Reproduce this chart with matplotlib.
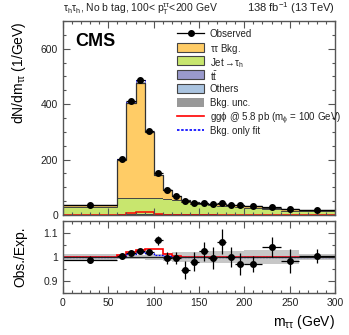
import numpy as np
import matplotlib
matplotlib.use('Agg')
import matplotlib.pyplot as plt
from matplotlib.patches import Rectangle
from matplotlib.lines import Line2D
from matplotlib.ticker import MultipleLocator

plt.rcParams['font.family'] = ['Liberation Sans', 'DejaVu Sans']
plt.rcParams['mathtext.fontset'] = 'custom'
plt.rcParams['mathtext.rm'] = 'Liberation Sans'
plt.rcParams['mathtext.it'] = 'Liberation Sans:italic'
plt.rcParams['mathtext.bf'] = 'Liberation Sans:bold'

# ---------------- data ----------------
bin_edges = [0, 60, 70, 80, 90, 100, 110, 120, 130, 140, 150, 160, 170, 180, 190, 200, 220, 240, 260, 300]
others = [0.5, 1, 1.5, 2, 2.5, 2.5, 2, 1.5, 1.2, 1, 1, 0.8, 0.8, 0.7, 0.6, 0.5, 0.4, 0.3, 0.3]
ttbar = [0.8, 1, 1.2, 1.5, 1.5, 1.8, 1.8, 1.6, 1.4, 1.3, 1.2, 1.1, 1, 1, 0.9, 0.8, 0.7, 0.5, 0.4]
jet_fake = [28, 61, 58, 57, 57, 57, 54, 51, 44, 38, 36, 33, 32, 29, 28, 24, 20, 15, 13]
tautau = [7, 137, 343, 416, 237, 82, 33, 14, 6.5, 5.7, 4.8, 5.1, 5.7, 6.3, 6.5, 6.7, 5.4, 4.7, 4.3]
observed = [36, 201, 411, 488, 304, 153, 91, 68, 50, 45, 44, 40, 42, 37, 35, 31, 28, 20, 18]
obs_err = [0.8, 4.5, 6.4, 7, 5.5, 3.9, 3, 2.6, 2.2, 2.1, 2.1, 2, 2, 1.9, 1.9, 1.2, 1.2, 1, 0.7]
signal = [0.3, 1.5, 7, 12, 10, 5, 1.2, 0.4, 0.2, 0.1, 0.1, 0.1, 0.1, 0.1, 0.1, 0.1, 0.1, 0.1, 0.1]
bkg_unc = [0.012, 0.01, 0.009, 0.009, 0.011, 0.014, 0.018, 0.02, 0.02, 0.021, 0.025, 0.025, 0.025, 0.025, 0.025, 0.028, 0.03, 0.03, 0.014]
ratio_obs = [0.989, 1.005, 1.017, 1.023, 1.021, 1.069, 0.996, 0.995, 0.945, 0.981, 1.023, 0.995, 1.063, 0.999, 0.972, 0.971, 1.043, 0.982, 1.003]
ratio_err = [0.015, 0.012, 0.008, 0.008, 0.008, 0.02, 0.024, 0.026, 0.037, 0.038, 0.041, 0.045, 0.052, 0.042, 0.045, 0.034, 0.041, 0.05, 0.03]
ratio_signal = [1.0, 1.007, 1.019, 1.028, 1.033, 1.033, 1.012, 1.005, 1.0, 1.0, 1.0, 1.0, 1.0, 1.0, 1.0, 1.0, 1.0, 1.0, 1.0]
ratio_bkgonly = [1.0, 1.002, 1.012, 1.02, 1.018, 1.01, 1.003, 1.0, 1.0, 1.0, 1.0, 1.0, 1.0, 1.0, 1.0, 1.0, 1.0, 1.0, 1.0]
legend_labels = ['Observed', r'$\mathrm{\tau\tau}$ Bkg.', r'Jet$\mathrm{\rightarrow\!\tau_h}$', r'$\mathrm{t\bar{t}}$', 'Others',
                 'Bkg. unc.', r'gg$\mathrm{\phi}$ @ 5.8 pb (m$_{\mathrm{\phi}}$ = 100 GeV)', 'Bkg. only fit']

# ---------------- styling ----------------
c_tt = '#FFCC66'
c_jet = '#C8E66E'
c_ttbar = '#9999CC'
c_oth = '#AAC4E0'
c_unc = '#999999'
c_edge = '#444444'
c_spine = '#555555'

edges = np.array(bin_edges, dtype=float)
centers = 0.5 * (edges[1:] + edges[:-1])
halfw = 0.5 * (edges[1:] - edges[:-1])

W, H = 349, 335
fig = plt.figure(figsize=(W / 100, H / 100), dpi=100)
ax = fig.add_axes([63 / W, 1 - 215 / H, 272 / W, 194 / H])
axr = fig.add_axes([63 / W, 1 - 293 / H, 272 / W, 72 / H])

# stack
layers = [(others, c_oth), (ttbar, c_ttbar), (jet_fake, c_jet), (tautau, c_tt)]
base = np.zeros(len(centers))
for vals, col in layers:
    top = base + np.array(vals, dtype=float)
    ax.stairs(top, edges, baseline=base, fill=True, color=col, lw=0)
    ax.stairs(top, edges, baseline=None, color=c_edge, lw=0.7)
    base = top
total = base
unc = np.array(bkg_unc)
ax.stairs(total * (1 + unc), edges, baseline=total * (1 - unc), fill=True, color=c_unc, alpha=0.6, lw=0)
ax.stairs(total * np.array(ratio_bkgonly), edges, baseline=None, color='blue', lw=0.7, ls=(0, (1.5, 1)))
ax.stairs(total, edges, baseline=None, color='#333333', lw=0.9)
ax.stairs(signal, edges, baseline=None, color='red', lw=1.1)
ax.errorbar(centers, observed, yerr=obs_err, xerr=halfw, fmt='o', color='black', ms=4, lw=0.9, capsize=0)

ax.set_xlim(0, 300)
ax.set_ylim(0, 700)
ax.set_ylabel(r'dN/dm$_{\mathrm{\tau\tau}}$ (1/GeV)', fontsize=10, loc='top')
ax.yaxis.set_label_coords(-0.13, 1.0)
ax.tick_params(labelbottom=False)

# ratio
axr.stairs(1 + unc, edges, baseline=1 - unc, fill=True, color=c_unc, alpha=0.55, lw=0)
axr.axhline(1.0, color='#222222', lw=0.9)
axr.stairs(ratio_signal, edges, baseline=None, color='red', lw=1.2)
axr.stairs(ratio_bkgonly, edges, baseline=None, color='blue', lw=0.9, ls=(0, (1.5, 1)))
axr.errorbar(centers, ratio_obs, yerr=ratio_err, xerr=halfw, fmt='o', color='black', ms=4, lw=0.9, capsize=0)
axr.set_xlim(0, 300)
axr.set_ylim(0.85, 1.15)
axr.set_yticks([0.9, 1.0, 1.1])
axr.set_yticklabels(['0.9', '1', '1.1'])
axr.set_ylabel('Obs./Exp.', fontsize=10)
axr.yaxis.set_label_coords(-0.13, 0.5)
axr.set_xlabel(r'm$_{\mathrm{\tau\tau}}$ (GeV)', fontsize=10, loc='right')

for a in (ax, axr):
    a.xaxis.set_major_locator(MultipleLocator(50))
    a.xaxis.set_minor_locator(MultipleLocator(10))
    a.tick_params(which='both', direction='in', top=True, right=True, colors=c_spine, labelcolor='#222222', labelsize=7.5, width=0.8)
    a.tick_params(which='major', length=5)
    a.tick_params(which='minor', length=2.5)
    for s in a.spines.values():
        s.set_color(c_spine)
        s.set_linewidth(1.0)
ax.yaxis.set_major_locator(MultipleLocator(200))
ax.yaxis.set_minor_locator(MultipleLocator(50))
axr.yaxis.set_minor_locator(MultipleLocator(0.05))

# texts
fig.text(63 / W, 1 - 12 / H, r'$\mathrm{\tau_h\tau_h}$, No b tag, 100< $\mathrm{p_T^{\tau\tau}}$<200 GeV',
         fontsize=7.5, ha='left', va='baseline', color='#222222')
fig.text(335 / W, 1 - 12 / H, r'138 fb$^{\mathrm{-1}}$ (13 TeV)', fontsize=8, ha='right', va='baseline', color='#222222')
fig.text(75 / W, 1 - 46 / H, 'CMS', fontsize=13, fontweight='bold', ha='left', va='baseline')

# manual legend
x0, x1, xt = 177, 204, 210
row_y = [33.3 + 13.8 * i for i in range(8)]
kinds = ['obs', ('patch', c_tt, c_edge), ('patch', c_jet, c_edge), ('patch', c_ttbar, c_edge), ('patch', c_oth, c_edge),
         ('patch', c_unc, 'none'), ('line', 'red', '-'), ('line', 'blue', (0, (1.5, 1)))]
for yrow, kind, lab in zip(row_y, kinds, legend_labels):
    yf = 1 - yrow / H
    if kind == 'obs':
        fig.add_artist(Line2D([x0 / W, x1 / W], [yf, yf], color='black', lw=0.9))
        fig.add_artist(Line2D([0.5 * (x0 + x1) / W], [yf], color='black', marker='o', ms=4, lw=0))
    elif kind[0] == 'patch':
        fig.add_artist(Rectangle((x0 / W, yf - 4.5 / H), (x1 - x0) / W, 9 / H, facecolor=kind[1], edgecolor=kind[2], lw=0.8))
    else:
        fig.add_artist(Line2D([x0 / W, x1 / W], [yf, yf], color=kind[1], lw=1.2, ls=kind[2]))
    fig.text(xt / W, yf, lab, fontsize=7, ha='left', va='center_baseline', color='#222222')

fig.savefig('out.png', dpi=100)
